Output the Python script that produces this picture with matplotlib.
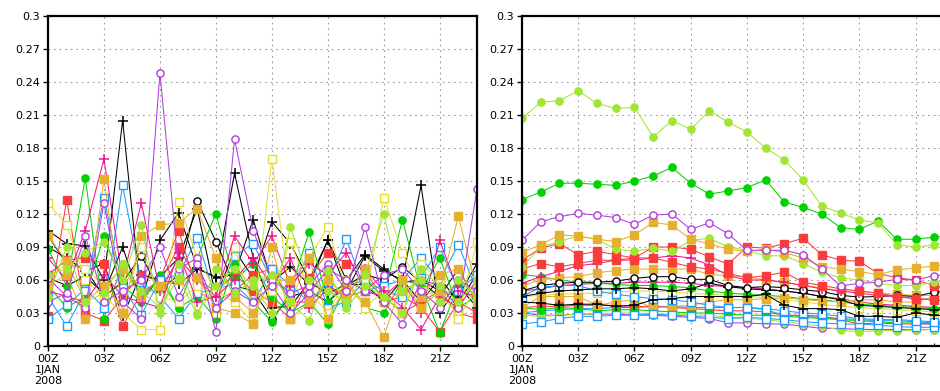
import numpy as np
import matplotlib
matplotlib.use("Agg")
import matplotlib.pyplot as plt
from matplotlib.ticker import FixedLocator, MultipleLocator

hours = list(range(24))
xtick_hours = [0, 3, 6, 9, 12, 15, 18, 21]
xtick_labels = ["00Z\n1JAN\n2008", "03Z", "06Z", "09Z", "12Z", "15Z", "18Z", "21Z"]
ytick_vals = [0, 0.03, 0.06, 0.09, 0.12, 0.15, 0.18, 0.21, 0.24, 0.27, 0.3]
ytick_labels = ["0", "0.03", "0.06", "0.09", "0.12", "0.15", "0.18", "0.21", "0.24", "0.27", "0.3"]

# style keys -> (colour, marker, filled)
STYLES = {
    "black_plus": ("#000000", "+", True),
    "black_circ": ("#000000", "o", False),
    "red_sq": ("#fa3c3c", "s", True),
    "green_dot": ("#00d200", "o", True),
    "blue_sq": ("#1e9bff", "s", False),
    "yellow_sq": ("#e6dc32", "s", False),
    "pink_plus": ("#f0148c", "+", True),
    "orange_sq": ("#e6af2d", "s", True),
    "purple_circ": ("#b03ce0", "o", False),
    "ygreen_dot": ("#a0e632", "o", True),
}

# left panel (noisy members)
left_styles = ["black_plus", "black_plus", "black_plus", "black_circ", "red_sq", "red_sq",
               "green_dot", "green_dot", "blue_sq", "blue_sq", "yellow_sq", "yellow_sq",
               "pink_plus", "pink_plus", "orange_sq", "orange_sq", "purple_circ", "purple_circ",
               "ygreen_dot", "ygreen_dot"]
left_values = [
    [0.105, 0.093, 0.091, 0.060, 0.205, 0.042, 0.096, 0.121, 0.071, 0.062, 0.065, 0.115, 0.058, 0.072, 0.056, 0.096, 0.060, 0.083, 0.070, 0.058, 0.060, 0.050, 0.045, 0.075],
    [0.090, 0.080, 0.068, 0.075, 0.027, 0.065, 0.060, 0.056, 0.070, 0.063, 0.157, 0.080, 0.035, 0.036, 0.058, 0.048, 0.056, 0.056, 0.040, 0.060, 0.146, 0.030, 0.055, 0.035],
    [0.062, 0.055, 0.063, 0.048, 0.090, 0.040, 0.063, 0.080, 0.125, 0.045, 0.087, 0.062, 0.113, 0.093, 0.060, 0.096, 0.050, 0.082, 0.068, 0.060, 0.040, 0.062, 0.040, 0.065],
    [0.100, 0.075, 0.070, 0.045, 0.058, 0.082, 0.050, 0.065, 0.132, 0.095, 0.055, 0.050, 0.025, 0.045, 0.050, 0.040, 0.055, 0.065, 0.060, 0.072, 0.058, 0.045, 0.070, 0.040],
    [0.027, 0.133, 0.030, 0.023, 0.045, 0.065, 0.058, 0.090, 0.060, 0.050, 0.065, 0.050, 0.040, 0.025, 0.062, 0.085, 0.075, 0.070, 0.040, 0.045, 0.035, 0.013, 0.040, 0.030],
    [0.065, 0.078, 0.080, 0.075, 0.018, 0.048, 0.060, 0.105, 0.050, 0.040, 0.050, 0.065, 0.070, 0.040, 0.040, 0.055, 0.045, 0.050, 0.045, 0.030, 0.040, 0.050, 0.030, 0.025],
    [0.088, 0.055, 0.153, 0.025, 0.075, 0.045, 0.060, 0.035, 0.080, 0.120, 0.060, 0.075, 0.045, 0.030, 0.040, 0.020, 0.055, 0.060, 0.045, 0.115, 0.050, 0.080, 0.035, 0.045],
    [0.055, 0.035, 0.045, 0.100, 0.055, 0.040, 0.065, 0.035, 0.045, 0.025, 0.075, 0.040, 0.022, 0.050, 0.104, 0.040, 0.060, 0.035, 0.030, 0.060, 0.055, 0.012, 0.055, 0.040],
    [0.025, 0.037, 0.052, 0.035, 0.146, 0.058, 0.045, 0.025, 0.048, 0.052, 0.056, 0.040, 0.070, 0.055, 0.040, 0.058, 0.097, 0.050, 0.055, 0.060, 0.080, 0.060, 0.092, 0.050],
    [0.045, 0.018, 0.050, 0.135, 0.053, 0.028, 0.060, 0.065, 0.098, 0.042, 0.082, 0.093, 0.060, 0.050, 0.085, 0.035, 0.040, 0.060, 0.050, 0.045, 0.062, 0.090, 0.050, 0.065],
    [0.130, 0.110, 0.060, 0.045, 0.030, 0.015, 0.015, 0.131, 0.080, 0.050, 0.040, 0.021, 0.170, 0.040, 0.080, 0.108, 0.050, 0.040, 0.135, 0.085, 0.050, 0.045, 0.030, 0.095],
    [0.060, 0.075, 0.070, 0.055, 0.035, 0.090, 0.045, 0.040, 0.055, 0.030, 0.090, 0.035, 0.050, 0.095, 0.050, 0.030, 0.060, 0.035, 0.050, 0.030, 0.075, 0.060, 0.025, 0.055],
    [0.080, 0.060, 0.105, 0.170, 0.060, 0.130, 0.050, 0.080, 0.060, 0.045, 0.100, 0.075, 0.100, 0.055, 0.075, 0.065, 0.085, 0.050, 0.045, 0.060, 0.030, 0.096, 0.050, 0.045],
    [0.050, 0.045, 0.040, 0.065, 0.045, 0.040, 0.035, 0.085, 0.040, 0.045, 0.060, 0.080, 0.055, 0.080, 0.035, 0.052, 0.045, 0.070, 0.050, 0.035, 0.015, 0.045, 0.035, 0.060],
    [0.055, 0.065, 0.025, 0.152, 0.030, 0.100, 0.110, 0.112, 0.125, 0.080, 0.045, 0.030, 0.060, 0.060, 0.080, 0.025, 0.055, 0.040, 0.008, 0.060, 0.035, 0.050, 0.118, 0.050],
    [0.100, 0.077, 0.040, 0.055, 0.070, 0.045, 0.055, 0.060, 0.063, 0.035, 0.030, 0.020, 0.090, 0.025, 0.040, 0.060, 0.045, 0.070, 0.040, 0.050, 0.045, 0.065, 0.070, 0.040],
    [0.062, 0.045, 0.035, 0.130, 0.040, 0.025, 0.248, 0.070, 0.080, 0.013, 0.188, 0.105, 0.060, 0.048, 0.055, 0.075, 0.050, 0.108, 0.040, 0.020, 0.060, 0.055, 0.035, 0.143],
    [0.040, 0.048, 0.100, 0.040, 0.050, 0.060, 0.090, 0.045, 0.075, 0.035, 0.050, 0.040, 0.055, 0.030, 0.048, 0.070, 0.060, 0.050, 0.065, 0.070, 0.050, 0.035, 0.060, 0.050],
    [0.065, 0.070, 0.085, 0.095, 0.060, 0.110, 0.030, 0.075, 0.030, 0.055, 0.070, 0.055, 0.030, 0.108, 0.060, 0.050, 0.040, 0.065, 0.120, 0.050, 0.060, 0.040, 0.060, 0.045],
    [0.045, 0.090, 0.040, 0.048, 0.075, 0.050, 0.035, 0.062, 0.028, 0.070, 0.048, 0.060, 0.065, 0.040, 0.023, 0.068, 0.035, 0.055, 0.045, 0.030, 0.070, 0.055, 0.040, 0.060],
]

# right panel (smooth members)
right_styles = ["ygreen_dot", "green_dot", "purple_circ", "orange_sq", "ygreen_dot", "red_sq",
                "red_sq", "pink_plus", "black_circ", "orange_sq", "black_plus", "black_plus",
                "blue_sq", "blue_sq", "orange_sq", "green_dot", "green_dot", "ygreen_dot",
                "purple_circ", "yellow_sq", "red_sq", "blue_sq", "pink_plus"]
right_values = [
    [0.207, 0.2215, 0.223, 0.232, 0.2206, 0.216, 0.217, 0.190, 0.205, 0.197, 0.2136, 0.2036, 0.1945, 0.180, 0.169, 0.151, 0.127, 0.121, 0.1145, 0.112, 0.092, 0.090, 0.092, 0.095],
    [0.133, 0.140, 0.148, 0.148, 0.147, 0.146, 0.150, 0.1545, 0.1624, 0.148, 0.138, 0.141, 0.144, 0.151, 0.131, 0.126, 0.120, 0.1076, 0.106, 0.1136, 0.097, 0.097, 0.099, 0.100],
    [0.096, 0.113, 0.1176, 0.1206, 0.119, 0.1167, 0.1106, 0.119, 0.120, 0.106, 0.112, 0.102, 0.087, 0.087, 0.087, 0.083, 0.070, 0.0545, 0.057, 0.058, 0.0606, 0.060, 0.064, 0.065],
    [0.085, 0.092, 0.101, 0.100, 0.097, 0.095, 0.101, 0.1124, 0.110, 0.097, 0.093, 0.088, 0.086, 0.088, 0.085, 0.080, 0.072, 0.070, 0.0676, 0.065, 0.069, 0.071, 0.0727, 0.075],
    [0.072, 0.090, 0.095, 0.100, 0.097, 0.088, 0.086, 0.089, 0.086, 0.096, 0.098, 0.090, 0.087, 0.082, 0.082, 0.075, 0.067, 0.062, 0.060, 0.057, 0.055, 0.055, 0.058, 0.060],
    [0.078, 0.089, 0.093, 0.083, 0.086, 0.083, 0.080, 0.090, 0.090, 0.088, 0.081, 0.0745, 0.090, 0.089, 0.093, 0.098, 0.083, 0.078, 0.077, 0.066, 0.062, 0.060, 0.055, 0.050],
    [0.070, 0.075, 0.072, 0.075, 0.078, 0.078, 0.078, 0.080, 0.076, 0.072, 0.070, 0.066, 0.062, 0.064, 0.067, 0.058, 0.055, 0.052, 0.050, 0.048, 0.045, 0.043, 0.042, 0.040],
    [0.057, 0.063, 0.068, 0.073, 0.075, 0.078, 0.080, 0.080, 0.082, 0.080, 0.0736, 0.064, 0.060, 0.060, 0.058, 0.055, 0.052, 0.050, 0.048, 0.046, 0.045, 0.043, 0.042, 0.040],
    [0.050, 0.055, 0.057, 0.058, 0.058, 0.059, 0.0615, 0.063, 0.063, 0.0606, 0.0606, 0.055, 0.053, 0.054, 0.053, 0.051, 0.0495, 0.046, 0.0445, 0.045, 0.046, 0.045, 0.049, 0.050],
    [0.055, 0.060, 0.062, 0.063, 0.0667, 0.0685, 0.0703, 0.0697, 0.070, 0.070, 0.065, 0.064, 0.063, 0.060, 0.058, 0.055, 0.053, 0.050, 0.050, 0.048, 0.047, 0.046, 0.046, 0.045],
    [0.040, 0.039, 0.037, 0.038, 0.038, 0.036, 0.037, 0.042, 0.043, 0.045, 0.045, 0.045, 0.045, 0.047, 0.037, 0.034, 0.034, 0.033, 0.027, 0.027, 0.026, 0.030, 0.028, 0.027],
    [0.045, 0.048, 0.050, 0.051, 0.052, 0.052, 0.053, 0.052, 0.050, 0.052, 0.057, 0.054, 0.052, 0.051, 0.050, 0.048, 0.045, 0.042, 0.037, 0.036, 0.035, 0.034, 0.033, 0.033],
    [0.045, 0.0533, 0.055, 0.055, 0.050, 0.047, 0.045, 0.043, 0.042, 0.040, 0.037, 0.035, 0.035, 0.034, 0.032, 0.030, 0.029, 0.027, 0.025, 0.024, 0.024, 0.023, 0.022, 0.022],
    [0.020, 0.022, 0.025, 0.027, 0.027, 0.028, 0.028, 0.029, 0.028, 0.027, 0.026, 0.025, 0.026, 0.025, 0.024, 0.022, 0.021, 0.020, 0.020, 0.019, 0.0176, 0.017, 0.017, 0.017],
    [0.035, 0.045, 0.045, 0.045, 0.037, 0.040, 0.042, 0.0345, 0.036, 0.037, 0.040, 0.042, 0.042, 0.043, 0.044, 0.042, 0.041, 0.040, 0.042, 0.042, 0.040, 0.040, 0.045, 0.045],
    [0.035, 0.033, 0.035, 0.034, 0.032, 0.033, 0.033, 0.032, 0.031, 0.030, 0.030, 0.029, 0.028, 0.028, 0.027, 0.026, 0.025, 0.024, 0.023, 0.022, 0.021, 0.021, 0.020, 0.020],
    [0.065, 0.063, 0.060, 0.058, 0.057, 0.056, 0.055, 0.055, 0.054, 0.053, 0.050, 0.048, 0.047, 0.046, 0.045, 0.043, 0.042, 0.040, 0.038, 0.037, 0.036, 0.035, 0.034, 0.034],
    [0.028, 0.027, 0.028, 0.029, 0.029, 0.030, 0.030, 0.029, 0.029, 0.028, 0.028, 0.026, 0.025, 0.024, 0.022, 0.020, 0.018, 0.0145, 0.013, 0.014, 0.014, 0.0145, 0.015, 0.015],
    [0.030, 0.028, 0.028, 0.029, 0.029, 0.029, 0.028, 0.028, 0.027, 0.026, 0.025, 0.021, 0.021, 0.020, 0.020, 0.018, 0.016, 0.016, 0.015, 0.015, 0.015, 0.015, 0.015, 0.016],
    [0.045, 0.046, 0.047, 0.048, 0.048, 0.049, 0.050, 0.050, 0.049, 0.048, 0.047, 0.046, 0.045, 0.044, 0.042, 0.040, 0.038, 0.036, 0.035, 0.034, 0.033, 0.032, 0.031, 0.030],
    [0.035, 0.036, 0.036, 0.037, 0.037, 0.037, 0.036, 0.036, 0.035, 0.034, 0.033, 0.032, 0.032, 0.031, 0.028, 0.028, 0.027, 0.024, 0.020, 0.021, 0.020, 0.020, 0.020, 0.021],
    [0.030, 0.032, 0.033, 0.034, 0.034, 0.035, 0.035, 0.036, 0.036, 0.035, 0.035, 0.035, 0.035, 0.033, 0.028, 0.027, 0.026, 0.025, 0.024, 0.023, 0.023, 0.022, 0.021, 0.021],
    [0.050, 0.052, 0.055, 0.056, 0.057, 0.057, 0.058, 0.058, 0.058, 0.057, 0.055, 0.054, 0.053, 0.052, 0.050, 0.048, 0.045, 0.043, 0.040, 0.038, 0.037, 0.036, 0.035, 0.035],
]


def draw_member(ax, vals, style):
    col, mk, filled = STYLES[style]
    size = {"o": 5.2, "s": 5.6, "+": 7.0}[mk]
    ax.plot(hours, vals, color=col, lw=0.75, marker=mk, ms=size,
            mfc=col if filled else "white", mec=col, mew=1.0 if mk != "+" else 1.1,
            clip_on=True)


def setup_axes(ax):
    ax.set_xlim(0, 23)
    ax.set_ylim(0, 0.3)
    ax.xaxis.set_major_locator(FixedLocator(xtick_hours))
    ax.set_xticklabels(xtick_labels, fontsize=8, linespacing=1.15)
    ax.xaxis.set_minor_locator(MultipleLocator(1))
    ax.yaxis.set_major_locator(FixedLocator(ytick_vals))
    ax.set_yticklabels(ytick_labels, fontsize=8)
    ax.grid(True, which="major", color="#9a9a9a", lw=0.8, ls=(0, (1.5, 3.5)))
    ax.tick_params(which="major", direction="out", length=3.5, width=1, pad=2)
    ax.tick_params(which="minor", direction="in", length=2, width=0.8)
    for sp in ax.spines.values():
        sp.set_linewidth(1.6)
        sp.set_zorder(5)
    ax.set_axisbelow(True)


fig = plt.figure(figsize=(9.4, 3.91), dpi=100)
ax1 = fig.add_axes([48 / 940, 45 / 391, 429 / 940, 330 / 391])
ax2 = fig.add_axes([522 / 940, 45 / 391, 431 / 940, 330 / 391])

for vals, st in zip(left_values, left_styles):
    draw_member(ax1, vals, st)
for vals, st in zip(right_values[::-1], right_styles[::-1]):
    draw_member(ax2, vals, st)

setup_axes(ax1)
setup_axes(ax2)

fig.savefig("out.png", dpi=100)
